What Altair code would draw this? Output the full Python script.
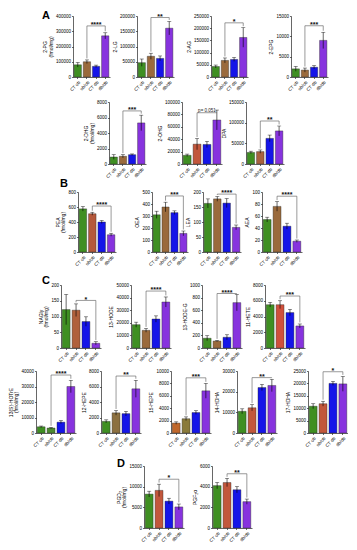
import altair as alt
import pandas as pd

GROUPS = ["CT ob", "ob/ob", "CT db", "db/db"]

NAMES = ["2-PG", "2-LG", "2-AG", "2-EPG",
         "2-DHG", "2-OHG", "DPA",
         "PEA", "OEA", "LEA", "AEA",
         "NAGly", "13-HODE", "13-HODE-G", "11-HETE",
         "13(S)-HOTrE", "12-HEPE", "15-HEPE", "14-HDHA", "17-HDHA",
         "PGD₂", "PGF₂α"]

MEANS = [
    [80000, 100000, 70000, 270000],
    [47000, 68000, 61000, 160000],
    [43000, 68000, 72000, 162000],
    [2000, 1700, 2400, 9000],
    [900, 1000, 1200, 5300],
    [14000, 32000, 31500, 71000],
    [28000, 30000, 62000, 80000],
    [575, 510, 400, 230],
    [310, 375, 328, 155],
    [162, 177, 163, 82],
    [54, 76, 43, 18],
    [122, 120, 84, 15],
    [18500, 14000, 23000, 36500],
    [155, 110, 170, 720],
    [5500, 5500, 4500, 2800],
    [4000, 3200, 7000, 30000],
    [1500, 2600, 2500, 5700],
    [1600, 2300, 3300, 6800],
    [10500, 12200, 22000, 23000],
    [10800, 11800, 20000, 19800],
    [8200, 9100, 6500, 5100],
    [4100, 4400, 3700, 2550],
]
ERRS = [
    [15000, 12000, 8000, 20000],
    [12000, 10000, 8000, 22000],
    [6000, 10000, 8000, 40000],
    [600, 500, 400, 2000],
    [300, 200, 100, 1000],
    [2000, 9000, 5000, 16000],
    [3000, 4000, 8000, 12000],
    [30, 20, 20, 20],
    [30, 40, 15, 20],
    [15, 8, 15, 8],
    [4, 8, 5, 2],
    [48, 20, 15, 5],
    [2000, 1500, 2500, 4000],
    [40, 10, 40, 130],
    [300, 500, 400, 250],
    [500, 400, 1000, 4000],
    [200, 300, 300, 1100],
    [200, 300, 300, 1200],
    [1200, 1500, 1500, 3000],
    [1000, 1000, 800, 3000],
    [700, 1500, 700, 700],
    [300, 400, 300, 250],
]
YMAX = [400000, 200000, 250000, 15000, 8000, 100000, 150000, 800, 500, 200, 100,
        200, 50000, 1000, 8000, 40000, 8000, 10000, 30000, 25000, 15000, 6000]
YSTEP = [100000, 50000, 50000, 5000, 2000, 20000, 50000, 200, 100, 50, 20,
         50, 10000, 200, 2000, 10000, 2000, 2000, 10000, 5000, 5000, 2000]
SIG = ["****", "**", "*", "***", "***", "p= 0.051", "**", "****", "***", "****", "****",
       "*", "****", "****", "***", "****", "**", "***", "**", "*", "*", "**"]
SIG_LEVEL = [335000, 195000, 222000, 12600, 6850, 82700, 104000, 613, 467, 193, 93,
             151, 45200, 865, 6600, 37400, 7350, 8900, 26800, 24700, 11800, 5250]

GREEN, BROWN, RED, BLUE, PURPLE = "#3f8f22", "#9a6a3c", "#c2573c", "#1515e8", "#8733de"
COLORS = [
    [GREEN, BROWN, BLUE, PURPLE], [GREEN, BROWN, BLUE, PURPLE], [GREEN, BROWN, BLUE, PURPLE],
    [GREEN, BROWN, BLUE, PURPLE], [GREEN, BROWN, BLUE, PURPLE], [GREEN, RED, BLUE, PURPLE],
    [GREEN, "#a8623f", BLUE, PURPLE],
    [GREEN, "#b5583b", BLUE, PURPLE], [GREEN, BROWN, BLUE, PURPLE], [GREEN, BROWN, BLUE, PURPLE],
    [GREEN, BROWN, BLUE, PURPLE],
    [GREEN, "#b0603c", BLUE, PURPLE], [GREEN, BROWN, BLUE, PURPLE], [GREEN, BROWN, BLUE, PURPLE],
    [GREEN, "#d0503c", BLUE, PURPLE],
    [GREEN, "#4d8a30", BLUE, PURPLE], [GREEN, "#8c7040", BLUE, PURPLE],
    ["#c0682c", "#8a7a3a", BLUE, PURPLE], [GREEN, RED, BLUE, PURPLE], [GREEN, RED, BLUE, PURPLE],
    [GREEN, RED, BLUE, PURPLE], [GREEN, RED, BLUE, PURPLE],
]

# layout (reference pixel coords)
ROWS = [[0, 1, 2, 3], [4, 5, 6], [7, 8, 9, 10], [11, 12, 13, 14], [15, 16, 17, 18, 19], [20, 21]]
LEFTS = [[69, 133, 207, 287], [105, 178, 242], [74, 148, 199, 258], [57, 127, 198, 261],
         [32, 97, 167, 233, 304], [140, 208]]
WIDTHS = [[37, 37, 37, 37], [37, 40, 38], [38, 36, 38, 40], [40, 40, 40, 40],
          [40, 40, 40, 40, 40], [40, 40]]
TOPS = [15, 101, 191, 284, 370, 465]
HEIGHTS = [61, 62, 60, 63, 62, 62]
LETTERS = ["A", None, "B", "C", None, "D"]
LETTER_OFF = [(-27, 0), None, (-14, -8), (-15, -4), None, (-23, -2)]
ORIGIN = 8


def spacer(w, h):
    return alt.Chart(pd.DataFrame({"z": [0]})).mark_point(opacity=0, size=1).encode(
        x=alt.value(0), y=alt.value(0)).properties(width=w, height=h)


def panel(i, w, h, first, letter=None, loff=(0, 0)):
    df = pd.DataFrame({"g": GROUPS, "m": MEANS[i], "e": ERRS[i], "c": COLORS[i]})
    df["lo"] = df["m"] - df["e"]
    df["hi"] = df["m"] + df["e"]
    xs = alt.Scale(domain=GROUPS, paddingInner=0.2, paddingOuter=0.12)
    ys = alt.Scale(domain=[0, YMAX[i]], nice=False, zero=True)
    ticks = list(range(0, YMAX[i] + 1, YSTEP[i]))
    title = [NAMES[i], "(fmol/mg)"] if first else NAMES[i]
    xax = alt.Axis(title=None, labelAngle=-45)
    yax = alt.Axis(values=ticks, format="d", title=title)

    def X():
        return alt.X("g:N", scale=xs, sort=GROUPS, axis=xax)

    def Y(f):
        return alt.Y(f, scale=ys, axis=yax)

    base = alt.Chart(df)
    bars = base.mark_bar(stroke="#2a2a2a", strokeWidth=0.4).encode(
        x=X(), y=Y("m:Q"), color=alt.Color("c:N", scale=None))
    err = base.mark_rule(color="black", strokeWidth=0.6).encode(
        x=X(), y=Y("lo:Q"), y2="hi:Q")
    cap = base.mark_tick(color="black", size=4, thickness=0.6).encode(x=X(), y=Y("hi:Q"))
    gap = YMAX[i] * 0.025
    lv = SIG_LEVEL[i]
    ls = min(df["hi"][1] + gap, lv)
    re_ = min(df["hi"][3] + gap, lv)
    bdf = pd.DataFrame({"g": ["ob/ob", "ob/ob", "db/db", "db/db"],
                        "v": [ls, lv, lv, re_], "o": [0, 1, 2, 3]})
    bracket = alt.Chart(bdf).mark_line(color="#555555", strokeWidth=0.6).encode(
        x=X(), y=Y("v:Q"), order="o:Q")
    sdf = pd.DataFrame({"g": ["CT db"], "v": [lv], "t": [SIG[i]]})
    if SIG[i].startswith("p"):
        smark = alt.Chart(sdf).mark_text(fontSize=4.5, baseline="alphabetic", dy=-1.2, color="#222")
    else:
        smark = alt.Chart(sdf).mark_text(fontSize=7, fontWeight="bold", baseline="alphabetic", dy=1.2, color="#111")
    stars = smark.encode(x=X(), y=Y("v:Q"), text="t:N")
    layers = [bars, err, cap, bracket, stars]
    if letter:
        layers.append(alt.Chart(pd.DataFrame({"t": [letter]})).mark_text(
            fontSize=11, fontWeight="bold", align="center", baseline="middle", color="black").encode(
            x=alt.value(loff[0]), y=alt.value(loff[1]), text="t:N"))
    return alt.layer(*layers).properties(width=w, height=h)


rows = []
prev_top = ORIGIN
for r, idxs in enumerate(ROWS):
    items = []
    cur = ORIGIN
    for k, i in enumerate(idxs):
        items.append(spacer(LEFTS[r][k] - cur, 1))
        items.append(panel(i, WIDTHS[r][k], HEIGHTS[r], k == 0,
                           LETTERS[r] if k == 0 else None,
                           LETTER_OFF[r] if k == 0 else (0, 0)))
        cur = LEFTS[r][k] + WIDTHS[r][k]
    # nested concat rows take no height in a flush layout, so the spacer carries the step
    rows.append(spacer(1, TOPS[r] - prev_top))
    rows.append(alt.hconcat(*items, spacing=0, bounds="flush"))
    prev_top = TOPS[r]

chart = alt.vconcat(*rows, spacing=0, bounds="flush").properties(
    padding={"left": 0, "top": 0, "right": 0, "bottom": 0}
).configure_view(stroke=None).configure_axis(
    labelFont="Liberation Sans", titleFont="Liberation Sans",
    labelFontSize=4.5, titleFontSize=5, titleFontWeight="normal",
    titleLineHeight=5.5, tickSize=1.5, labelPadding=1, titlePadding=2,
    domainColor="black", tickColor="black", labelColor="black", titleColor="black",
    domainWidth=0.6, tickWidth=0.6, grid=False,
).configure_text(font="Liberation Sans")

chart.save("out.html", embed_options={"renderer": "svg", "actions": False})
